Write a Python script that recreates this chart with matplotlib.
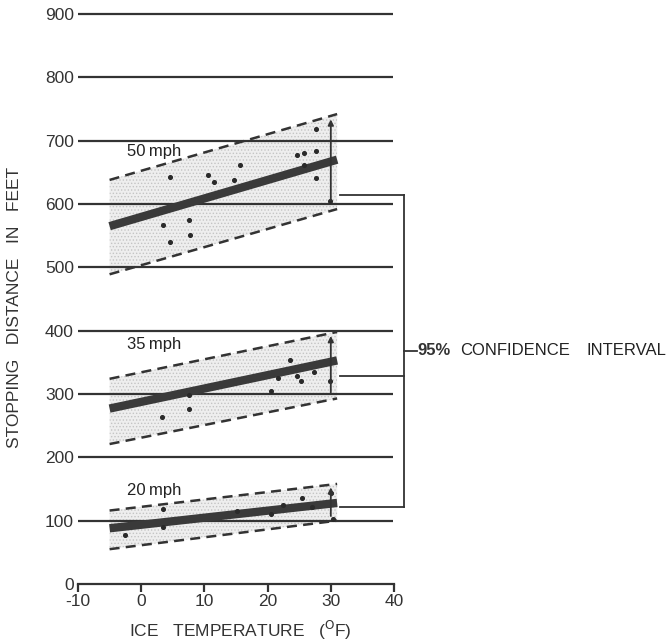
""" Stopping distance on ice vs. ice temperature """

import matplotlib as mpl
import matplotlib.pyplot as plt

mpl.rcParams['font.family'] = 'Liberation Sans'
mpl.rcParams['hatch.linewidth'] = 0.6
mpl.rcParams['axes.unicode_minus'] = False

# data

band_temp = [-5, 31]          # temperature range of the fitted bands (F)
speeds = ['50mph', '35mph', '20mph']
fit_lines = [[565, 670], [277, 353], [88, 128]]
upper_bounds = [[638, 742], [324, 398], [116, 158]]
lower_bounds = [[489, 592], [221, 293], [55, 100]]
arrow_spans = [[602, 738], [298, 396], [103, 157]]   # vertical arrows at 30 F
bracket_y = [615, 329, 121]
label_y = [683, 378, 147]

pts50_t = [3.4, 4.5, 4.5, 7.5, 7.7, 10.5, 11.5, 14.7, 15.7, 24.7, 25.7, 25.7, 27.6, 27.6, 27.6, 29.8]
pts50_d = [567, 643, 540, 575, 551, 646, 635, 638, 661, 677, 680, 662, 683, 641, 719, 605]
pts35_t = [3.3, 7.5, 7.5, 20.5, 21.6, 23.5, 24.6, 25.3, 27.4, 29.8]
pts35_d = [263, 277, 298, 305, 325, 354, 328, 320, 335, 320]
pts20_t = [-2.6, 3.4, 3.4, 15.1, 20.6, 22.4, 25.4, 27.1, 30.1, 30.3]
pts20_d = [77, 119, 90, 116, 111, 125, 136, 121, 144, 103]
points = [(pts50_t, pts50_d), (pts35_t, pts35_d), (pts20_t, pts20_d)]

y_ticks = [0, 100, 200, 300, 400, 500, 600, 700, 800, 900]
x_ticks = [-10, 0, 10, 20, 30, 40]

INK = '#333333'

# figure design

fig = plt.figure(figsize=(6.71, 6.43), dpi=100)
ax = fig.add_axes([78 / 671, 59 / 643, 316 / 671, 570 / 643])
ax.set_xlim(-10, 40)
ax.set_ylim(0, 900)
for side in ['top', 'right', 'left']:
    ax.spines[side].set_visible(False)
ax.spines['bottom'].set_color(INK)
ax.spines['bottom'].set_linewidth(1.6)
ax.set_xticks(x_ticks)
ax.set_yticks(y_ticks)
ax.tick_params(axis='x', length=6, width=1.6, color=INK, labelsize=12.5, labelcolor=INK, pad=1)
ax.tick_params(axis='y', length=0, labelsize=12.5, labelcolor=INK, pad=3)

# horizontal grid lines

ax.hlines(y_ticks[1:], -10, 39.8, color=INK, linewidth=1.6, clip_on=False, zorder=1)

# bands, fits, points

for i in range(3):
    ax.fill_between(band_temp, lower_bounds[i], upper_bounds[i],
                    facecolor='#eeeeee', edgecolor='#c4c4c4', hatch='.....',
                    linewidth=0, zorder=0.5)
    ax.plot(band_temp, upper_bounds[i], linestyle=(0, (4, 2.5)), color=INK, linewidth=1.8, zorder=3)
    ax.plot(band_temp, lower_bounds[i], linestyle=(0, (4, 2.5)), color=INK, linewidth=1.8, zorder=3)
    ax.plot(band_temp, fit_lines[i], color='#3a3a3a', linewidth=6, solid_capstyle='butt', zorder=4)
    ax.scatter(points[i][0], points[i][1], s=7, color='#2a2a2a', zorder=5)
    ax.annotate('', xy=(30, arrow_spans[i][1]), xytext=(30, arrow_spans[i][0]),
                arrowprops=dict(arrowstyle='-|>', color=INK, lw=1.3, mutation_scale=8),
                zorder=5)
    ax.text(-2.3, label_y[i], speeds[i][:2] + '\u2009' + speeds[i][2:], fontsize=12,
            color='#222222', ha='left', va='center', zorder=6)

# confidence interval bracket

for y in bracket_y:
    ax.plot([31.4, 41.6], [y, y], color=INK, linewidth=1.3, clip_on=False)
ax.plot([41.6, 41.6], [bracket_y[-1], bracket_y[0]], color=INK, linewidth=1.3, clip_on=False)
y_mid = (bracket_y[0] + bracket_y[-1]) / 2
ax.plot([41.6, 43.6], [y_mid, y_mid], color=INK, linewidth=1.3, clip_on=False)
ax.text(43.7, y_mid, '95%', fontsize=12, fontweight='bold', color=INK,
        ha='left', va='center', clip_on=False)
ax.text(50.4, y_mid, 'CONFIDENCE', fontsize=12, color='#222222',
        ha='left', va='center', clip_on=False)
ax.text(70.5, y_mid, 'INTERVAL', fontsize=12, color='#222222',
        ha='left', va='center', clip_on=False)

# axis labels

fig.text(15 / 671, 1 - 307 / 643, 'STOPPING   DISTANCE   IN   FEET', rotation=90,
         fontsize=12.5, color=INK, ha='center', va='center')
fig.text(240 / 671, 1 - 630 / 643, r'ICE   TEMPERATURE   ($^{\rm O}$F)',
         fontsize=12.5, color=INK, ha='center', va='center')

fig.savefig('out.png', dpi=100)
